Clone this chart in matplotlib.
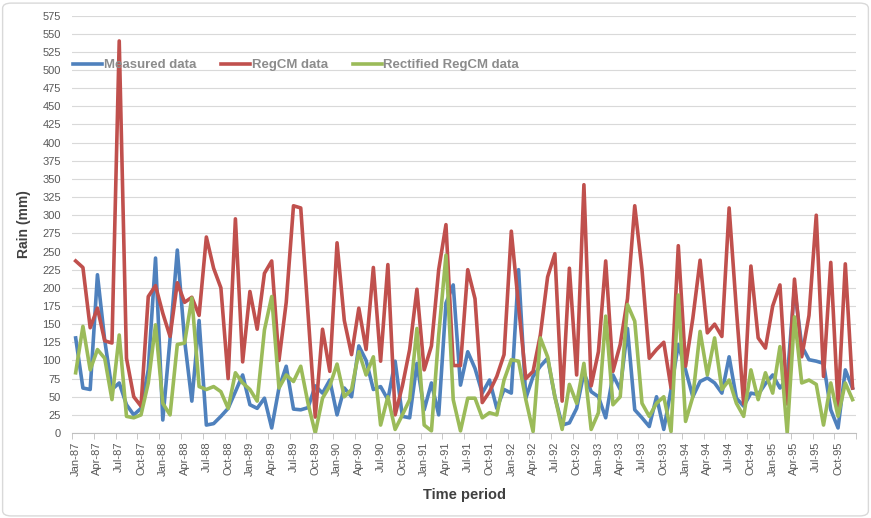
import matplotlib
matplotlib.use("Agg")
import matplotlib.pyplot as plt
from matplotlib.patches import FancyBboxPatch
import numpy as np

plt.rcParams['font.family'] = ['Liberation Sans', 'DejaVu Sans']

years = list(range(87, 96))
months = ['Jan', 'Feb', 'Mar', 'Apr', 'May', 'Jun', 'Jul', 'Aug', 'Sep', 'Oct', 'Nov', 'Dec']
categories = [f"{m}-{y}" for y in years for m in months]

measured = [131, 62, 60, 218, 128, 60, 69, 39, 25, 34, 87, 241,
            18, 130, 252, 128, 44, 155, 11, 13, 23, 34, 57, 80,
            39, 34, 48, 7, 62, 92, 33, 32, 35, 65, 55, 73,
            25, 62, 50, 120, 100, 60, 64, 46, 99, 23, 21, 96,
            32, 69, 25, 179, 204, 66, 112, 89, 55, 73, 34, 60,
            55, 225, 48, 78, 92, 103, 50, 11, 14, 34, 83, 57,
            50, 21, 80, 60, 144, 32, 21, 9, 50, 5, 60, 122,
            87, 50, 71, 76, 69, 55, 105, 48, 37, 55, 53, 68,
            80, 62, 75, 200, 120, 101, 99, 96, 32, 7, 87, 62]

regcm = [237, 228, 145, 172, 127, 124, 540, 103, 50, 37, 188, 203,
         165, 133, 207, 180, 187, 162, 270, 227, 200, 75, 295, 98,
         195, 143, 220, 237, 100, 180, 313, 310, 165, 22, 143, 85,
         262, 155, 108, 172, 115, 228, 99, 232, 25, 65, 115, 198,
         87, 120, 225, 287, 93, 93, 225, 185, 42, 57, 78, 108,
         278, 175, 75, 85, 135, 215, 247, 44, 227, 80, 342, 65,
         112, 237, 85, 122, 185, 313, 225, 103, 115, 125, 62, 258,
         92, 158, 238, 138, 150, 133, 310, 170, 40, 230, 131, 117,
         175, 204, 40, 212, 105, 162, 300, 78, 235, 37, 233, 62]

rectified = [83, 147, 87, 115, 103, 46, 135, 23, 21, 25, 69, 149,
             41, 25, 122, 124, 186, 64, 60, 64, 57, 34, 83, 69,
             60, 44, 142, 188, 62, 80, 71, 92, 41, 0, 48, 65,
             95, 50, 60, 112, 80, 105, 11, 50, 5, 25, 46, 144,
             11, 3, 135, 245, 46, 3, 48, 48, 21, 28, 25, 73,
             101, 99, 46, 2, 131, 105, 50, 5, 67, 41, 96, 5,
             28, 161, 39, 50, 177, 154, 41, 23, 41, 50, 2, 190,
             16, 50, 140, 80, 131, 60, 73, 41, 23, 87, 46, 83,
             55, 119, 0, 160, 69, 73, 67, 11, 69, 23, 69, 46]

series_names = ['Measured data', 'RegCM data', 'Rectified RegCM data']
series_colors = ['#4F81BD', '#C0504D', '#9BBB59']

fig = plt.figure(figsize=(8.71, 5.18), dpi=100)
ax = fig.add_axes([0.0827, 0.164, 0.9003, 0.806])

x = np.arange(len(categories))
for vals, name, col in zip([measured, regcm, rectified], series_names, series_colors):
    ax.plot(x, vals, color=col, lw=2.6, label=name, solid_joinstyle='round')

ax.set_xlim(-0.5, len(categories) - 0.5)
ax.set_ylim(0, 575)
ax.set_yticks(np.arange(0, 576, 25))
ax.yaxis.grid(True, color='#d9d9d9', lw=0.8)
ax.set_axisbelow(True)
ax.tick_params(axis='y', length=0, labelsize=8, labelcolor='#595959', pad=8)

ax.set_xticks(x[::3])
ax.set_xticklabels(categories[::3], rotation=90, fontsize=8, color='#595959')
ax.set_xticks(np.arange(-0.5, len(categories), 3), minor=True)
ax.tick_params(axis='x', which='major', length=0, pad=6)
ax.tick_params(axis='x', which='minor', length=4, color='#bfbfbf')

for s in ['top', 'right', 'left']:
    ax.spines[s].set_visible(False)
ax.spines['bottom'].set_color('#bfbfbf')

ax.set_ylabel('Rain (mm)', fontsize=10, fontweight='bold', color='#404040', labelpad=8)
ax.set_xlabel('Time period', fontsize=10.5, fontweight='bold', color='#404040', labelpad=9)

leg = fig.legend(loc='center', bbox_to_anchor=(0.340, 0.874), ncol=3, frameon=False,
                 prop={'size': 9.5, 'weight': 'bold'},
                 handlelength=2.2, handletextpad=0.1, columnspacing=1.9)
for t in leg.get_texts():
    t.set_color('#8c8c8c')

border = FancyBboxPatch((0.003, 0.004), 0.994, 0.99, boxstyle='round,pad=0,rounding_size=0.01',
                        transform=fig.transFigure, fill=False, edgecolor='#d9d9d9', lw=1)
fig.patches.append(border)

fig.savefig('out.png', dpi=100)
